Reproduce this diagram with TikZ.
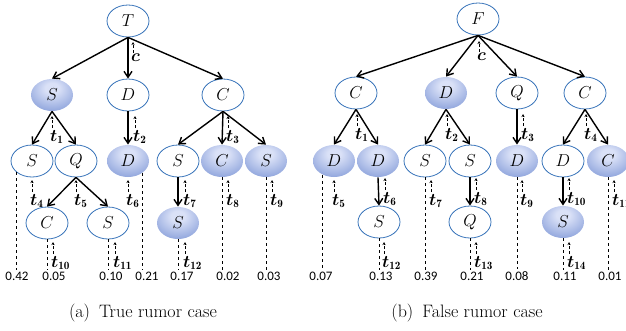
\documentclass[tikz,border=0pt]{standalone}
\usepackage{amsmath,amssymb}
\usepackage{fontspec}
\usepackage{xcolor}
\usepackage{tikz}
\newfontfamily\numfont{Carlito}
\usetikzlibrary{shapes.geometric,arrows.meta,calc}
\definecolor{nodeline}{RGB}{55,115,185}
\definecolor{shadein}{RGB}{218,225,247}
\definecolor{shadeout}{RGB}{100,130,205}
\pgfdeclareradialshading{nodeshade}{\pgfpoint{0bp}{12bp}}{color(0bp)=(shadein); color(8bp)=(shadein); color(48bp)=(shadeout); color(85bp)=(shadeout)}
\tikzset{
  wnode/.style={ellipse, draw=nodeline, line width=0.8pt, minimum width=42pt, minimum height=32pt, inner sep=0pt, font=\fontsize{16.5}{18}\selectfont},
  bnode/.style={wnode, draw=none, shading=nodeshade},
  arr/.style={-{Straight Barb[length=6pt,width=8pt]}, line width=1.4pt},
  tk/.style={densely dashed, -{Stealth[length=3pt,width=3pt]}, line width=0.6pt},
  tl/.style={inner sep=0pt, anchor=north west, font=\fontsize{16}{18}\selectfont},
  val/.style={inner sep=2pt, font=\numfont\fontsize{13}{15}\selectfont},
  drop/.style={dashed, line width=0.6pt}
}

\begin{document}
\begin{tikzpicture}[x=1pt,y=-1pt]
\clip (0,0) rectangle (626,330);
% (a) true rumor
\node[wnode] (aT) at (128,21) {$T$};
\node[bnode] (aS1) at (52,95) {$S$};
\node[wnode] (aD1) at (128,95) {$D$};
\node[wnode] (aC1) at (223,95) {$C$};
\node[wnode] (aS2) at (32,161) {$S$};
\node[wnode] (aQ1) at (76,161) {$Q$};
\node[bnode] (aD2) at (128,161) {$D$};
\node[wnode] (aS3) at (178,161) {$S$};
\node[bnode] (aC2) at (222,161) {$C$};
\node[bnode] (aS4) at (266,161) {$S$};
\node[wnode] (aC3) at (47,223) {$C$};
\node[wnode] (aS5) at (108,223) {$S$};
\node[bnode] (aS6) at (178,223) {$S$};
\foreach \a/\b in {aT/aS1,aT/aD1,aT/aC1,aS1/aS2,aS1/aQ1,aD1/aD2,aC1/aS3,aC1/aC2,aC1/aS4,aQ1/aC3,aQ1/aS5,aS3/aS6}
  \draw[arr] (\a.south) -- (\b.north);
\foreach \n/\p/\x/\v in {1/aS2.215/17/0.42, 2/aC3.south/54/0.05, 3/aS5.south/111/0.10, 4/aD2.320/147/0.21, 5/aS6.south/182/0.17, 6/aC2.south/228/0.02, 7/aS4.south/269/0.03} {
  \node[val] (av\n) at (\x,276) {\v};
  \draw[drop] (\p) -- (\p |- av\n.north);
}
\node[tl] (ac) at (131,54) {$\boldsymbol{c}$};
\draw[tk] ([xshift=2pt,yshift=1pt]ac.north west) -- ++(0,-11);
\foreach \x/\y/\n in {52/130/1, 135/130/2, 228/130/3, 32/194/4, 76/194/5, 128/194/6, 185/194/7, 228/194/8, 272/194/9, 53/256/10, 115/256/11, 185/256/12} {
  \node[tl] (at\n) at (\x-2,\y) {$\boldsymbol{t}_{\mathbf{\n}}$};
  \draw[tk] ([xshift=2pt,yshift=2pt]at\n.north west) -- ++(0,-12);
}
\node[font=\fontsize{18}{21}\selectfont] (capa) at (143,313) {(a)\enspace True rumor case};

% (b) false rumor
\node[wnode] (bF) at (478,19) {$F$};
\node[wnode] (bC1) at (356,93) {$C$};
\node[bnode] (bD1) at (446,93) {$D$};
\node[wnode] (bQ1) at (517,93) {$Q$};
\node[wnode] (bC2) at (585,93) {$C$};
\node[bnode] (bD2) at (334,161) {$D$};
\node[bnode] (bD3) at (378,161) {$D$};
\node[wnode] (bS1) at (425,161) {$S$};
\node[wnode] (bS2) at (470,161) {$S$};
\node[bnode] (bD4) at (517,161) {$D$};
\node[wnode] (bD5) at (563,161) {$D$};
\node[bnode] (bC3) at (608,161) {$C$};
\node[wnode] (bS3) at (379,222) {$S$};
\node[wnode] (bQ2) at (470,222) {$Q$};
\node[bnode] (bS4) at (563,222) {$S$};
\foreach \a/\b in {bF/bC1,bF/bD1,bF/bQ1,bF/bC2,bC1/bD2,bC1/bD3,bD1/bS1,bD1/bS2,bQ1/bD4,bC2/bD5,bC2/bC3,bD3/bS3,bS2/bQ2,bD5/bS4}
  \draw[arr] (\a.south) -- (\b.north);
\foreach \n/\p/\x/\v in {1/bD2.230/321/0.07, 2/bS3.south/381/0.13, 3/bS1.south/426/0.39, 4/bQ2.south/472/0.21, 5/bD4.south/517/0.08, 6/bS4.south/565/0.11, 7/bC3.south/610/0.01} {
  \node[val] (bv\n) at (\x,276) {\v};
  \draw[drop] (\p) -- (\p |- bv\n.north);
}
\node[tl] (bc) at (477,53) {$\boldsymbol{c}$};
\draw[tk] ([xshift=2pt,yshift=1pt]bc.north west) -- ++(0,-11);
\foreach \x/\y/\n in {357/128/1, 447/128/2, 523/128/3, 586/128/4, 334/194/5, 385/192/6, 431/194/7, 476/192/8, 522/194/9, 569/192/10, 614/194/11, 384/256/12, 476/256/13, 569/256/14} {
  \node[tl] (bt\n) at (\x-2,\y) {$\boldsymbol{t}_{\mathbf{\n}}$};
  \draw[tk] ([xshift=2pt,yshift=2pt]bt\n.north west) -- ++(0,-12);
}
\node[font=\fontsize{18}{21}\selectfont] (capb) at (467,313) {(b)\enspace False rumor case};
\end{tikzpicture}
\end{document}
